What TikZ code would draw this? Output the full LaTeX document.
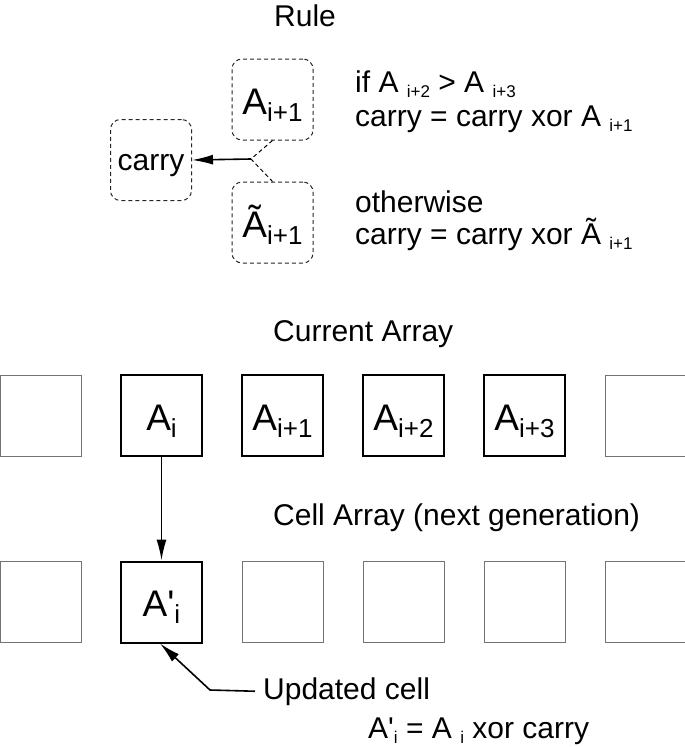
\documentclass[tikz,border=0pt]{standalone}
\usepackage{fontspec}
\setmainfont{Liberation Sans}
\usepackage{tikz}
\usetikzlibrary{arrows.meta}
\newcommand{\lowidx}[1]{{\fontsize{17}{17}\selectfont\raisebox{-5pt}{#1}}}
\newcommand{\cellidx}[1]{{\fontsize{26}{26}\selectfont\raisebox{-7pt}{#1}}}
\tikzset{
    txt/.style = {inner sep=0pt, anchor=base west, font=\fontsize{30}{36}\selectfont},
    cell/.style = {draw=black, line width=2pt, minimum width=81pt, minimum height=81pt, inner sep=0pt, text height=29pt, text depth=0pt, font=\fontsize{37}{40}\selectfont},
    emptycell/.style = {cell, draw=black!55, line width=1pt},
    rulebox/.style = {cell, draw=black!85, line width=1pt, dash pattern=on 4pt off 3pt, rounded corners=10pt},
    link/.style = {line width=1.6pt, -{Latex[length=21pt,width=10pt]}}
}

\begin{document}
\begin{tikzpicture}[x=1pt, y=-1pt]
    \useasboundingbox (0,0) rectangle (685,747);

    \node [txt] (rule) at (274,26) {Rule};
    \node [rulebox] (aup) at (272.5,99.5) {A\cellidx{i+1}};
    \node [rulebox] (atil) at (272.5,222.5) {Ã\cellidx{i+1}};
    \node [rulebox, text height=20pt, font=\fontsize{30}{36}\selectfont] (carry) at (151,160) {carry};
    \coordinate (junc) at (251,159);
    \draw [line width=1pt, dash pattern=on 4pt off 3pt] (aup.south) -- (junc) -- (atil.north);
    \draw [link] (junc) -- (carry.east);

    \node [txt] (cond) at (355,92) {if A \lowidx{i+2} > A \lowidx{i+3}};
    \node [txt] (upd1) at (355,126) {carry = carry xor A \lowidx{i+1}};
    \node [txt] (other) at (355,212) {otherwise};
    \node [txt] (upd2) at (355,244) {carry = carry xor Ã \lowidx{i+1}};

    \node [txt] (cur) at (273,341) {Current Array};
    \node [emptycell] (c0) at (40.5,415.5) {};
    \node [cell] (c1) at (161.5,415.5) {A\cellidx{i}};
    \node [cell] (c2) at (282.5,415.5) {A\cellidx{i+1}};
    \node [cell] (c3) at (403.5,415.5) {A\cellidx{i+2}};
    \node [cell] (c4) at (524.5,415.5) {A\cellidx{i+3}};
    \node [emptycell] (c5) at (645.5,415.5) {};

    \node [txt] (next) at (273,525) {Cell Array (next generation)};
    \node [emptycell] (n0) at (40.5,602) {};
    \node [cell] (n1) at (161.5,602) {A\textquotesingle\cellidx{i}};
    \node [emptycell] (n2) at (282.5,602) {};
    \node [emptycell] (n3) at (403.5,602) {};
    \node [emptycell] (n4) at (524.5,602) {};
    \node [emptycell] (n5) at (645.5,602) {};
    \draw [link] (c1.south) -- (n1.north);

    \node [txt] (updcell) at (263,699) {Updated cell};
    \coordinate (bend) at (210,690);
    \draw [link] ([xshift=-8pt]updcell.west) -- (bend) -- ([xshift=-1.5pt]n1.south);
    \node [txt] (formula) at (368,738) {A\textquotesingle\lowidx{i} = A \lowidx{i} xor carry};
\end{tikzpicture}
\end{document}
